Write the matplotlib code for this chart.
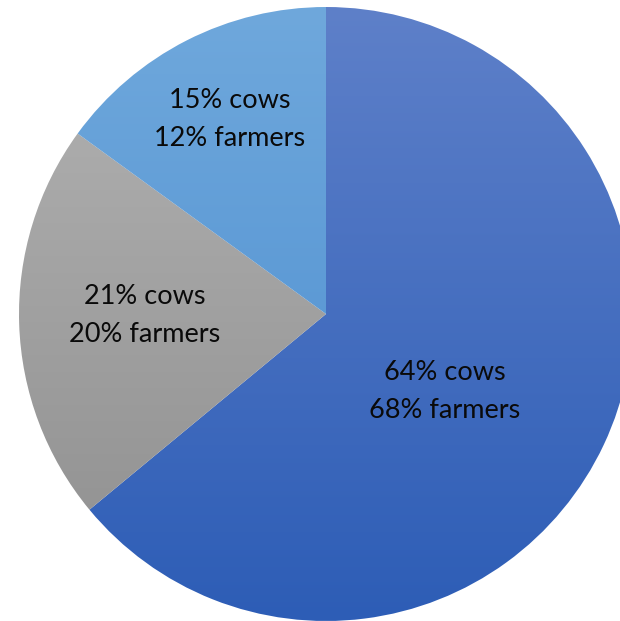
import matplotlib
matplotlib.use("Agg")

import matplotlib.pyplot as plt
import matplotlib.colors as mcolors
import numpy as np

# ── Data ──────────────────────────────────────────────────────────────────────
cows_pct    = [64, 21, 15]
farmers_pct = [68, 20, 12]

# gradient colours (top, bottom) per slice
SLICE_COLORS = [
    ("#5E80C9", "#2D5DB6"),   # blue
    ("#B3B3B3", "#8E8E8E"),   # gray
    ("#6FA8DC", "#4A8CCF"),   # light blue
]

# label centres in pixel coords (x, y from top)
LABEL_POS = [(445, 392), (145, 315), (230, 120)]

W, H = 620, 621
CX, CY, R = 326, 307, 307

fig = plt.figure(figsize=(W / 100, H / 100), dpi=100, facecolor="white")
ax = fig.add_axes([0, 0, 1, 1])

wedges, _ = ax.pie(
    cows_pct,
    center=(CX, CY),
    radius=R,
    startangle=90,
    counterclock=False,
    colors=["none"] * 3,
    wedgeprops=dict(linewidth=0),
    frame=True,
)

# ── Vertical gradient fill per wedge ─────────────────────────────────────────
grad = np.linspace(0, 1, 256).reshape(-1, 1)
for wedge, (top, bottom) in zip(wedges, SLICE_COLORS):
    cmap = mcolors.LinearSegmentedColormap.from_list("g", [top, bottom])
    im = ax.imshow(
        grad, cmap=cmap, aspect="auto",
        extent=(CX - R, CX + R, CY - R, CY + R),
        origin="upper", interpolation="bilinear", zorder=1,
    )
    im.set_clip_path(wedge)

ax.set_xlim(0, W)
ax.set_ylim(0, H)
ax.set_aspect("equal")
ax.axis("off")

# ── Labels ───────────────────────────────────────────────────────────────────
for (x, y), c, f in zip(LABEL_POS, cows_pct, farmers_pct):
    ax.text(
        x, H - y, f"{c}% cows\n{f}% farmers",
        ha="center", va="center", fontsize=19.5, family="Lato",
        color="#0a0a0a", linespacing=1.65, zorder=3,
    )

plt.savefig("out.png", dpi=100, facecolor="white")
